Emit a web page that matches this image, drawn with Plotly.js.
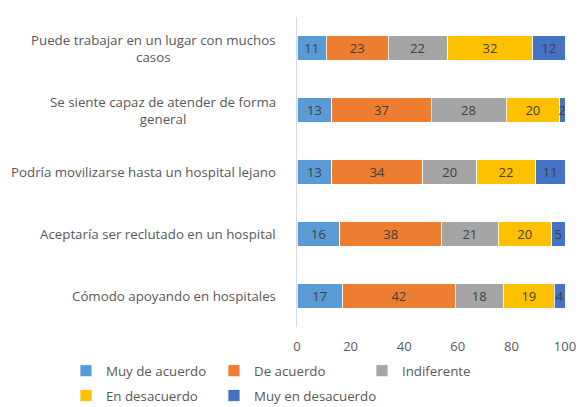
<!DOCTYPE html>
<html>
<head>
<meta charset="utf-8">
<script src="https://cdn.plot.ly/plotly-3.0.1.min.js"></script>
<style>html,body{margin:0;padding:0;background:#fff;}#chart{width:578px;height:407px;}</style>
</head>
<body>
<div id="chart"></div>
<script>
var categories = [
  "Puede trabajar en un lugar con muchos<br>casos",
  "Se siente capaz de atender de forma<br>general",
  "Podría movilizarse hasta un hospital lejano",
  "Aceptaría ser reclutado en un hospital",
  "Cómodo apoyando en hospitales"
];
var seriesNames = ["Muy de acuerdo", "De acuerdo", "Indiferente", "En desacuerdo", "Muy en desacuerdo"];
var muyDeAcuerdo    = [11, 13, 13, 16, 17];
var deAcuerdo       = [23, 37, 34, 38, 42];
var indiferente     = [22, 28, 20, 21, 18];
var enDesacuerdo    = [32, 20, 22, 20, 19];
var muyEnDesacuerdo = [12, 2, 11, 5, 4];
var xTicks = [0, 20, 40, 60, 80, 100];

var seriesValues = [muyDeAcuerdo, deAcuerdo, indiferente, enDesacuerdo, muyEnDesacuerdo];
var colors = ["#5B9BD5", "#ED7D31", "#A5A5A5", "#FFC000", "#4472C4"];
var legendIds = ["legend", "legend", "legend", "legend2", "legend2"];

var font = "'Open Sans', 'Liberation Sans', sans-serif";

var traces = seriesValues.map(function (vals, i) {
  var t = {
    type: "bar",
    orientation: "h",
    name: seriesNames[i],
    y: categories,
    x: vals,
    text: vals.map(String),
    textposition: "inside",
    insidetextanchor: "middle",
    constraintext: "none",
    textangle: 0,
    textfont: {family: font, size: 13, color: "#404040"},
    marker: {color: colors[i], line: {color: "#ffffff", width: 0.8}},
    legend: legendIds[i],
    hoverinfo: "none"
  };
  if (i === 2 || i === 4) t.legendwidth = 150;
  return t;
});

var annotations = categories.map(function (c) {
  return {
    xref: "paper", yref: "y",
    x: -0.07, y: c,
    xanchor: "right", yanchor: "middle",
    align: "center",
    text: c,
    showarrow: false,
    font: {family: font, size: 13.3, color: "#595959"}
  };
});

var legendCommon = {
  orientation: "h",
  xref: "paper", yref: "paper",
  xanchor: "left", yanchor: "middle",
  entrywidth: 103, entrywidthmode: "pixels",
  font: {family: font, size: 13.3, color: "#595959"},
  bgcolor: "rgba(0,0,0,0)",
  traceorder: "normal"
};

var layout = {
  width: 578, height: 407,
  margin: {l: 297, r: 13, t: 17, b: 80, autoexpand: false},
  paper_bgcolor: "#ffffff",
  plot_bgcolor: "#ffffff",
  barmode: "stack",
  bargap: 0.6,
  showlegend: true,
  xaxis: {
    range: [0, 100],
    tickvals: xTicks,
    ticktext: xTicks.map(String),
    showgrid: false,
    zeroline: false,
    showline: false,
    ticks: "",
    tickfont: {family: font, size: 13, color: "#595959"},
    ticklabelstandoff: 10,
    fixedrange: true
  },
  yaxis: {
    type: "category",
    autorange: "reversed",
    showticklabels: false,
    showgrid: false,
    zeroline: false,
    showline: true,
    linecolor: "#D9D9D9",
    linewidth: 1,
    ticks: "",
    fixedrange: true
  },
  legend: Object.assign({}, legendCommon, {x: -0.862, y: -0.142}),
  legend2: Object.assign({}, legendCommon, {x: -0.862, y: -0.222}),
  annotations: annotations
};

Plotly.newPlot("chart", traces, layout, {displayModeBar: false, staticPlot: true});
</script>
</body>
</html>
